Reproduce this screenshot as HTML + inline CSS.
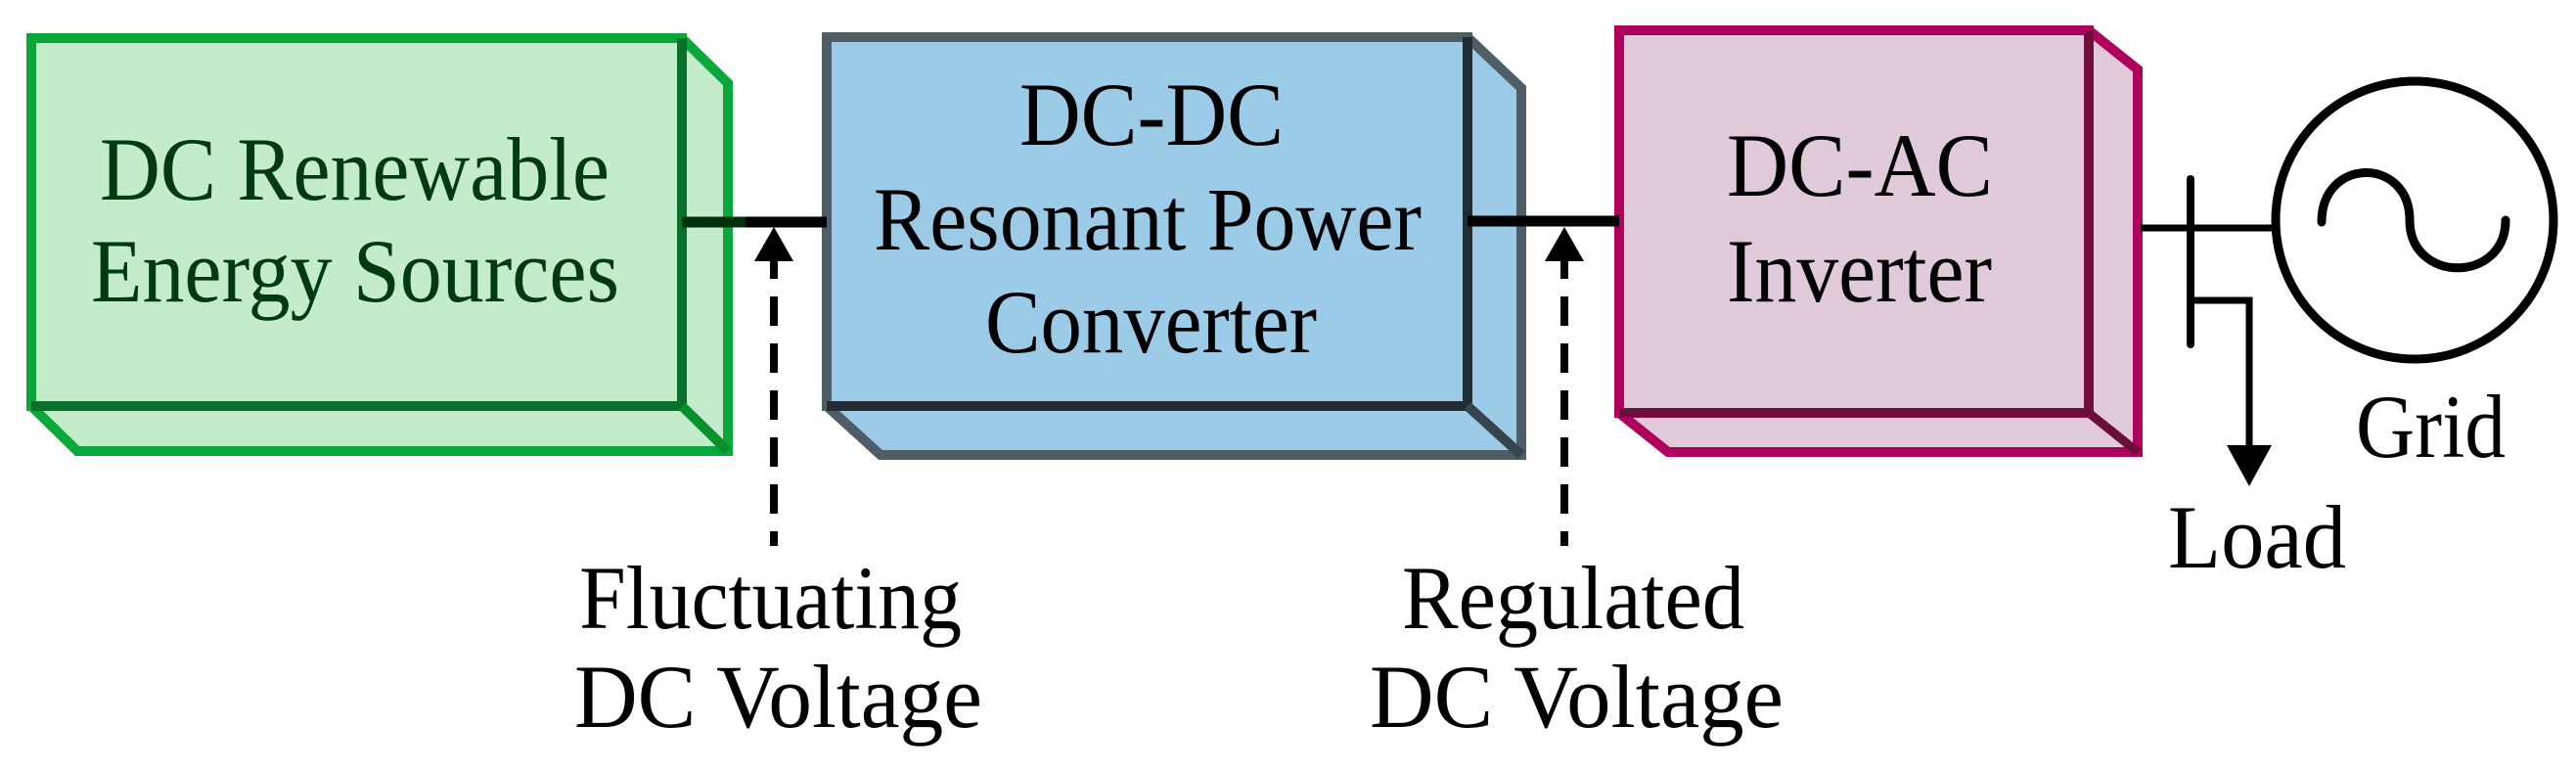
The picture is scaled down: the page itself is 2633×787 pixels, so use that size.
<!DOCTYPE html>
<html><head><meta charset="utf-8"><style>
html,body{margin:0;padding:0;background:#fff;}
svg{display:block;}
svg text{font-family:"Liberation Serif","Times New Roman",Times,serif;font-size:92px;}
</style></head><body>
<svg width="2633" height="787" viewBox="0 0 2633 787" xmlns="http://www.w3.org/2000/svg" font-family="Liberation Serif, Times New Roman, serif" font-size="92">
<!-- Green box -->
<polygon points="32,39 697,39 744,85 744,461 79,461 32,415" fill="#c4ecca" stroke="#0aa83a" stroke-width="10"/>
<rect x="32" y="39" width="665" height="376" fill="#c4ecca" stroke="#0aa83a" stroke-width="10"/>
<line x1="697" y1="39" x2="697" y2="415" stroke="#08702a" stroke-width="10"/>
<line x1="32" y1="415" x2="697" y2="415" stroke="#08702a" stroke-width="10"/>
<line x1="697" y1="415" x2="744" y2="461" stroke="#08902f" stroke-width="10"/>
<text x="102" y="204" fill="#003a10" font-family="Liberation Serif, serif" textLength="521" lengthAdjust="spacingAndGlyphs">DC Renewable</text>
<text x="93" y="308" fill="#003a10" font-family="Liberation Serif, serif" textLength="540" lengthAdjust="spacingAndGlyphs">Energy Sources</text>

<!-- Blue box -->
<polygon points="845,38 1500,38 1555,90 1555,465 900,465 845,415" fill="#9ccbe8" stroke="#4f5d67" stroke-width="10"/>
<rect x="845" y="38" width="655" height="377" fill="#9ccbe8" stroke="#4f5d67" stroke-width="10"/>
<line x1="1500" y1="38" x2="1500" y2="415" stroke="#222c33" stroke-width="10"/>
<line x1="845" y1="415" x2="1500" y2="415" stroke="#222c33" stroke-width="10"/>
<line x1="1500" y1="415" x2="1555" y2="465" stroke="#36444e" stroke-width="10"/>
<text x="1042" y="148" fill="#000" font-family="Liberation Serif, serif" textLength="270" lengthAdjust="spacingAndGlyphs">DC-DC</text>
<text x="893" y="255" fill="#000" font-family="Liberation Serif, serif" textLength="560" lengthAdjust="spacingAndGlyphs">Resonant Power</text>
<text x="1007" y="360" fill="#000" font-family="Liberation Serif, serif" textLength="339" lengthAdjust="spacingAndGlyphs">Converter</text>

<!-- Pink box -->
<polygon points="1655,31 2135,31 2185,71 2185,462 1705,462 1655,422" fill="#e0c9d8" stroke="#b0005e" stroke-width="10"/>
<rect x="1655" y="31" width="480" height="391" fill="#e0c9d8" stroke="#b0005e" stroke-width="10"/>
<line x1="2135" y1="31" x2="2135" y2="422" stroke="#6a0f3a" stroke-width="9"/>
<line x1="1655" y1="422" x2="2135" y2="422" stroke="#6a0f3a" stroke-width="9"/>
<line x1="2135" y1="422" x2="2185" y2="462" stroke="#6a0f3a" stroke-width="9"/>
<text x="1765" y="200" fill="#000" font-family="Liberation Serif, serif" textLength="272" lengthAdjust="spacingAndGlyphs">DC-AC</text>
<text x="1765" y="308" fill="#000" font-family="Liberation Serif, serif" textLength="271" lengthAdjust="spacingAndGlyphs">Inverter</text>

<!-- connectors -->
<line x1="697" y1="227" x2="845" y2="227" stroke="#000" stroke-width="11"/>
<line x1="697" y1="227" x2="762" y2="227" stroke="#00300c" stroke-width="11"/>
<line x1="1500" y1="226" x2="1655" y2="226" stroke="#000" stroke-width="11"/>

<!-- dashed arrows -->
<polygon points="791,232 771,267 811,267" fill="#000"/>
<line x1="791" y1="265" x2="791" y2="558" stroke="#000" stroke-width="8" stroke-dasharray="20,18,30,18,30,18,30,18,30,18,30,18,30,18"/>
<polygon points="1599,232 1579,267 1619,267" fill="#000"/>
<line x1="1599" y1="265" x2="1599" y2="558" stroke="#000" stroke-width="8" stroke-dasharray="20,18,30,18,30,18,30,18,30,18,30,18,30,18"/>

<text x="592" y="642" fill="#000" font-family="Liberation Serif, serif" textLength="391" lengthAdjust="spacingAndGlyphs">Fluctuating</text>
<text x="587" y="743" fill="#000" font-family="Liberation Serif, serif" textLength="417" lengthAdjust="spacingAndGlyphs">DC Voltage</text>
<text x="1433" y="642" fill="#000" font-family="Liberation Serif, serif" textLength="350" lengthAdjust="spacingAndGlyphs">Regulated</text>
<text x="1400" y="743" fill="#000" font-family="Liberation Serif, serif" textLength="423" lengthAdjust="spacingAndGlyphs">DC Voltage</text>

<!-- grid side -->
<line x1="2188" y1="233" x2="2326" y2="233" stroke="#000" stroke-width="7"/>
<line x1="2239" y1="183" x2="2239" y2="352" stroke="#000" stroke-width="8" stroke-linecap="round"/>
<polyline points="2239,307 2299,307 2299,458" fill="none" stroke="#000" stroke-width="7"/>
<polygon points="2276,455 2322,455 2299,497" fill="#000"/>
<circle cx="2468" cy="225" r="142" fill="none" stroke="#000" stroke-width="9"/>
<path d="M2373,227 C2373,160 2463,160 2463,225 C2463,290 2561,290 2561,225" fill="none" stroke="#000" stroke-width="9" stroke-linecap="round"/>
<text x="2408" y="467" fill="#000" font-family="Liberation Serif, serif" textLength="153" lengthAdjust="spacingAndGlyphs">Grid</text>
<text x="2216" y="580" fill="#000" font-family="Liberation Serif, serif" textLength="182" lengthAdjust="spacingAndGlyphs">Load</text>
</svg>
</body></html>
